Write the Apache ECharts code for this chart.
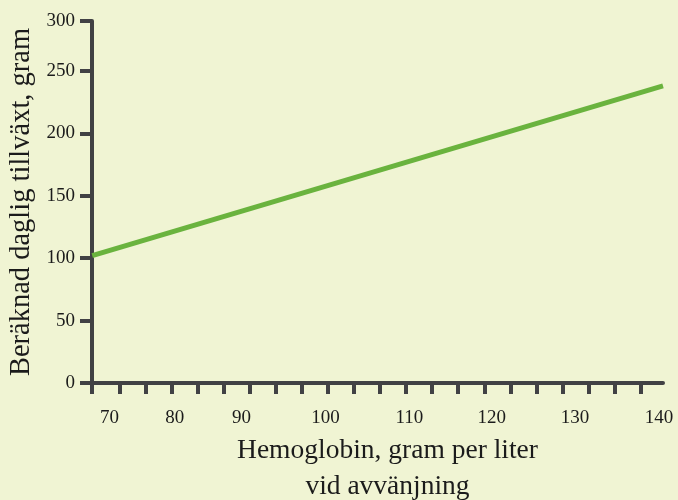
<!DOCTYPE html>
<html>
<head>
<meta charset="utf-8">
<script src="https://cdn.jsdelivr.net/npm/echarts@6/dist/echarts.min.js"></script>
<style>
html,body{margin:0;padding:0;background:#f0f4d3;}
#chart{width:678px;height:500px;}
</style>
</head>
<body>
<div id="chart"></div>
<script>
// Data
var hemoglobin = [67.8, 140.5];          // x at the line's two ends (g/L)
var growth = [102, 238];                 // estimated daily growth (g)

// Tick labels and where they sit on the axes (axis units)
var xTickLabels = ['70', '80', '90', '100', '110', '120', '130', '140'];
var xLabelAt = [70.0, 78.3, 86.8, 97.5, 108.2, 118.7, 129.3, 140.0];
var yTickLabels = ['0', '50', '100', '150', '200', '250', '300'];
var yLabelAt = [0, 50, 100, 150, 200, 250, 290];

var xMin = 67.77, xMax = 140.5, yMin = 0, yMax = 290;
var minorTickStart = 71.34, minorTickStep = 3.3138, minorTickCount = 22;

var xTicks = [xMin];
for (var i = 0; i < minorTickCount; i++) xTicks.push(minorTickStart + i * minorTickStep);

var FONT = '"Liberation Serif", "DejaVu Serif", serif';
var AXIS = '#414144';
var TEXT = '#1b1b1b';

var chart = echarts.init(document.getElementById('chart'));
chart.setOption({
  backgroundColor: '#f0f4d3',
  animation: false,
  grid: { left: 92, right: 15, top: 21, bottom: 117, containLabel: false, outerBoundsMode: 'none' },
  xAxis: {
    type: 'value', min: xMin, max: xMax,
    name: 'Hemoglobin, gram per liter\nvid avvänjning',
    nameLocation: 'middle', nameGap: 50,
    nameTextStyle: { fontFamily: FONT, fontSize: 27.5, color: TEXT, lineHeight: 36, padding: [0, 0, 0, 20] },
    axisLine: { show: true, lineStyle: { color: AXIS, width: 4 } },
    axisTick: { show: true, customValues: xTicks, length: 11, lineStyle: { color: AXIS, width: 4 } },
    axisLabel: {
      customValues: xLabelAt, margin: 26,
      fontFamily: FONT, fontSize: 19, color: TEXT,
      formatter: function (v) {
        for (var k = 0; k < xLabelAt.length; k++) if (Math.abs(xLabelAt[k] - v) < 1e-6) return xTickLabels[k];
        return '';
      }
    },
    splitLine: { show: false }
  },
  yAxis: {
    type: 'value', min: yMin, max: yMax,
    name: 'Beräknad daglig tillväxt, gram',
    nameLocation: 'middle', nameGap: 56, nameRotate: 90,
    nameTextStyle: { fontFamily: FONT, fontSize: 28.5, color: TEXT },
    axisLine: { show: true, lineStyle: { color: AXIS, width: 4 } },
    axisTick: { show: true, customValues: yLabelAt, length: 12, lineStyle: { color: AXIS, width: 4 } },
    axisLabel: {
      customValues: yLabelAt, margin: 17,
      fontFamily: FONT, fontSize: 19, color: TEXT,
      formatter: function (v) {
        for (var k = 0; k < yLabelAt.length; k++) if (Math.abs(yLabelAt[k] - v) < 1e-6) return yTickLabels[k];
        return '';
      }
    },
    splitLine: { show: false }
  },
  series: [{
    type: 'line',
    data: hemoglobin.map(function (x, i) { return [x, growth[i]]; }),
    symbol: 'none',
    lineStyle: { color: '#6ab33e', width: 5, cap: 'butt' },
    clip: false
  }]
});
</script>
</body>
</html>
